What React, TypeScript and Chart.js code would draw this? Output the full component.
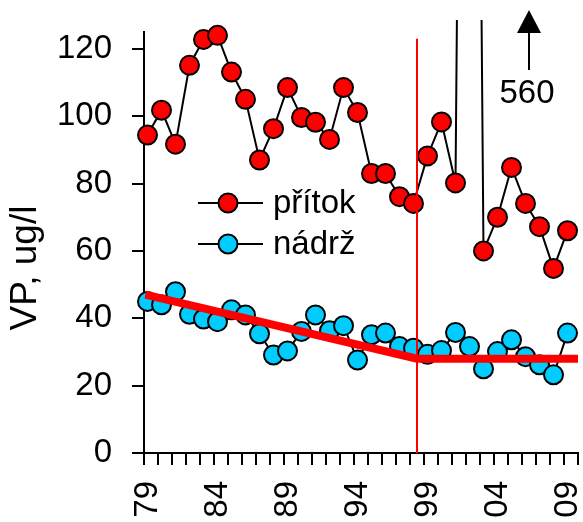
import React, { useEffect, useRef } from "react";
import { Chart, registerables } from "chart.js";

Chart.register(...registerables);

// Sampling years
const years = [
  1979, 1980, 1981, 1982, 1983, 1984, 1985, 1986, 1987, 1988,
  1989, 1990, 1991, 1992, 1993, 1994, 1995, 1996, 1997, 1998,
  1999, 2000, 2001, 2002, 2003, 2004, 2005, 2006, 2007, 2008, 2009,
];

// Total phosphorus (VP, ug/l) in the inflow
const pritok = [
  94.4, 101.8, 91.7, 115.1, 122.8, 124, 113.1, 105, 87, 96.3,
  108.5, 99.6, 98.2, 93.1, 108.5, 101.1, 83, 83, 76.1, 74.1,
  88.2, 98.3, 80.2, 560, 60, 70, 84.8, 74.1, 67.2, 54.8, 66,
];

// Total phosphorus (VP, ug/l) in the reservoir
const nadrz = [
  45.0, 44.0, 47.9, 41.2, 39.8, 39.0, 42.5, 41.0, 35.4, 29.1,
  30.3, 36.1, 41.0, 36.3, 37.8, 27.6, 35.1, 35.6, 31.6, 31.1,
  29.3, 30.4, 35.8, 31.6, 25.0, 30.1, 33.6, 28.6, 26.2, 23.2, 35.6,
];

// Piecewise trend of the reservoir values
const trendX = [1978.85, 1998.25, 2009.75];
const trendY = [47, 28, 28];

// Break year marker
const breakYear = 1998.25;
const breakTop = 123;

// Axis ticks and labels
const yTicks = [0, 20, 40, 60, 80, 100, 120];
const xLabelYears = [1979, 1984, 1989, 1994, 1999, 2004, 2009];
const xLabels = ["79", "84", "89", "94", "99", "04", "09"];

const X_MIN = 1978.75;
const X_MAX = 2009.75;

const FONT = "'Liberation Sans', Arial, Helvetica, sans-serif";
const RED = "#FF0000";
const CYAN = "#00CCFF";

const zeroPadding = (scale: any) => {
  scale.paddingLeft = 0;
  scale.paddingRight = 0;
  scale.paddingTop = 0;
  scale.paddingBottom = 0;
};

const overlayPlugin = {
  id: "overlay",
  afterDraw(chart: any) {
    const ctx = chart.ctx as CanvasRenderingContext2D;
    ctx.save();

    // legend
    const items = [
      { label: "přítok", color: RED, y: 203 },
      { label: "nádrž", color: CYAN, y: 244 },
    ];
    ctx.font = `33px ${FONT}`;
    ctx.textBaseline = "middle";
    ctx.textAlign = "left";
    for (const it of items) {
      ctx.strokeStyle = "#000";
      ctx.lineWidth = 2;
      ctx.beginPath();
      ctx.moveTo(198, it.y);
      ctx.lineTo(263, it.y);
      ctx.stroke();
      ctx.beginPath();
      ctx.arc(228, it.y, 9.5, 0, Math.PI * 2);
      ctx.fillStyle = it.color;
      ctx.fill();
      ctx.stroke();
      ctx.fillStyle = "#000";
      ctx.fillText(it.label, 273, it.y + 1);
    }

    // off-scale value note with arrow
    const ax = 529;
    ctx.strokeStyle = "#000";
    ctx.lineWidth = 2;
    ctx.beginPath();
    ctx.moveTo(ax, 70);
    ctx.lineTo(ax, 32);
    ctx.stroke();
    ctx.fillStyle = "#000";
    ctx.beginPath();
    ctx.moveTo(ax - 12, 33);
    ctx.lineTo(ax + 12, 33);
    ctx.lineTo(ax, 10);
    ctx.closePath();
    ctx.fill();
    ctx.textAlign = "center";
    ctx.fillText("560", 527, 94);

    // y axis title
    ctx.font = `37px ${FONT}`;
    ctx.translate(26, 268);
    ctx.rotate(-Math.PI / 2);
    ctx.textAlign = "center";
    ctx.fillText("VP, ug/l", 0, 0);

    ctx.restore();
  },
};

export default function App() {
  const canvasRef = useRef<HTMLCanvasElement | null>(null);

  useEffect(() => {
    const canvas = canvasRef.current;
    if (!canvas) return;

    const pointStyle = {
      borderColor: "#000",
      borderWidth: 2,
      pointBorderColor: "#000",
      pointBorderWidth: 2,
      pointRadius: 9.5,
      tension: 0,
    };

    const chart = new Chart(canvas, {
      type: "line",
      data: {
        datasets: [
          {
            label: "trend",
            data: trendX.map((x, i) => ({ x, y: trendY[i] })),
            borderColor: RED,
            borderWidth: 8,
            pointRadius: 0,
            borderCapStyle: "butt",
            order: 0,
          },
          {
            label: "break",
            data: [
              { x: breakYear, y: 0 },
              { x: breakYear, y: breakTop },
            ],
            borderColor: RED,
            borderWidth: 2,
            pointRadius: 0,
            order: 1,
            clip: false,
          },
          {
            label: "přítok",
            data: years.map((x, i) => ({ x, y: pritok[i] })),
            ...pointStyle,
            pointBackgroundColor: RED,
            order: 2,
            clip: { left: 20, right: 20, bottom: 20, top: 12 },
          },
          {
            label: "nádrž",
            data: years.map((x, i) => ({ x, y: nadrz[i] })),
            ...pointStyle,
            pointBackgroundColor: CYAN,
            order: 3,
            clip: false,
          },
        ] as any,
      },
      options: {
        animation: false,
        responsive: false,
        devicePixelRatio: 1,
        events: [],
        layout: {
          autoPadding: false,
          padding: { left: 0, right: 5, top: 32, bottom: 0 },
        },
        plugins: {
          legend: { display: false },
          tooltip: { enabled: false },
        },
        scales: {
          x: {
            type: "linear",
            min: X_MIN,
            max: X_MAX,
            afterBuildTicks(scale: any) {
              const t: { value: number }[] = [];
              for (let v = X_MIN; v <= X_MAX + 1e-6; v += 1) t.push({ value: v });
              scale.ticks = t;
            },
            afterFit(scale: any) {
              scale.height = 69;
              zeroPadding(scale);
            },
            ticks: {
              autoSkip: false,
              minRotation: 90,
              maxRotation: 90,
              labelOffset: 3.5,
              padding: 16,
              color: "#000",
              font: { family: FONT, size: 33 },
              callback(value: any) {
                const yr = Math.round(Number(value) + 0.25);
                const idx = xLabelYears.indexOf(yr);
                return idx >= 0 ? xLabels[idx] : "";
              },
            },
            grid: {
              drawOnChartArea: false,
              drawTicks: true,
              tickLength: 12,
              color: "#000",
              lineWidth: 2,
            },
            border: { display: true, color: "#000", width: 2 },
          },
          y: {
            type: "linear",
            min: 0,
            max: 125,
            afterBuildTicks(scale: any) {
              scale.ticks = yTicks.map((v) => ({ value: v }));
            },
            afterFit(scale: any) {
              scale.width = 144;
              zeroPadding(scale);
            },
            ticks: {
              padding: 20,
              color: "#000",
              font: { family: FONT, size: 33 },
            },
            grid: {
              drawOnChartArea: false,
              drawTicks: true,
              tickLength: 12,
              color: "#000",
              lineWidth: 2,
            },
            border: { display: true, color: "#000", width: 2 },
          },
        },
      } as any,
      plugins: [overlayPlugin],
    });

    return () => chart.destroy();
  }, []);

  return (
    <div style={{ position: "fixed", left: 0, top: 0, width: 583, height: 522, background: "#fff" }}>
      <canvas ref={canvasRef} width={583} height={522} style={{ display: "block" }} />
    </div>
  );
}
